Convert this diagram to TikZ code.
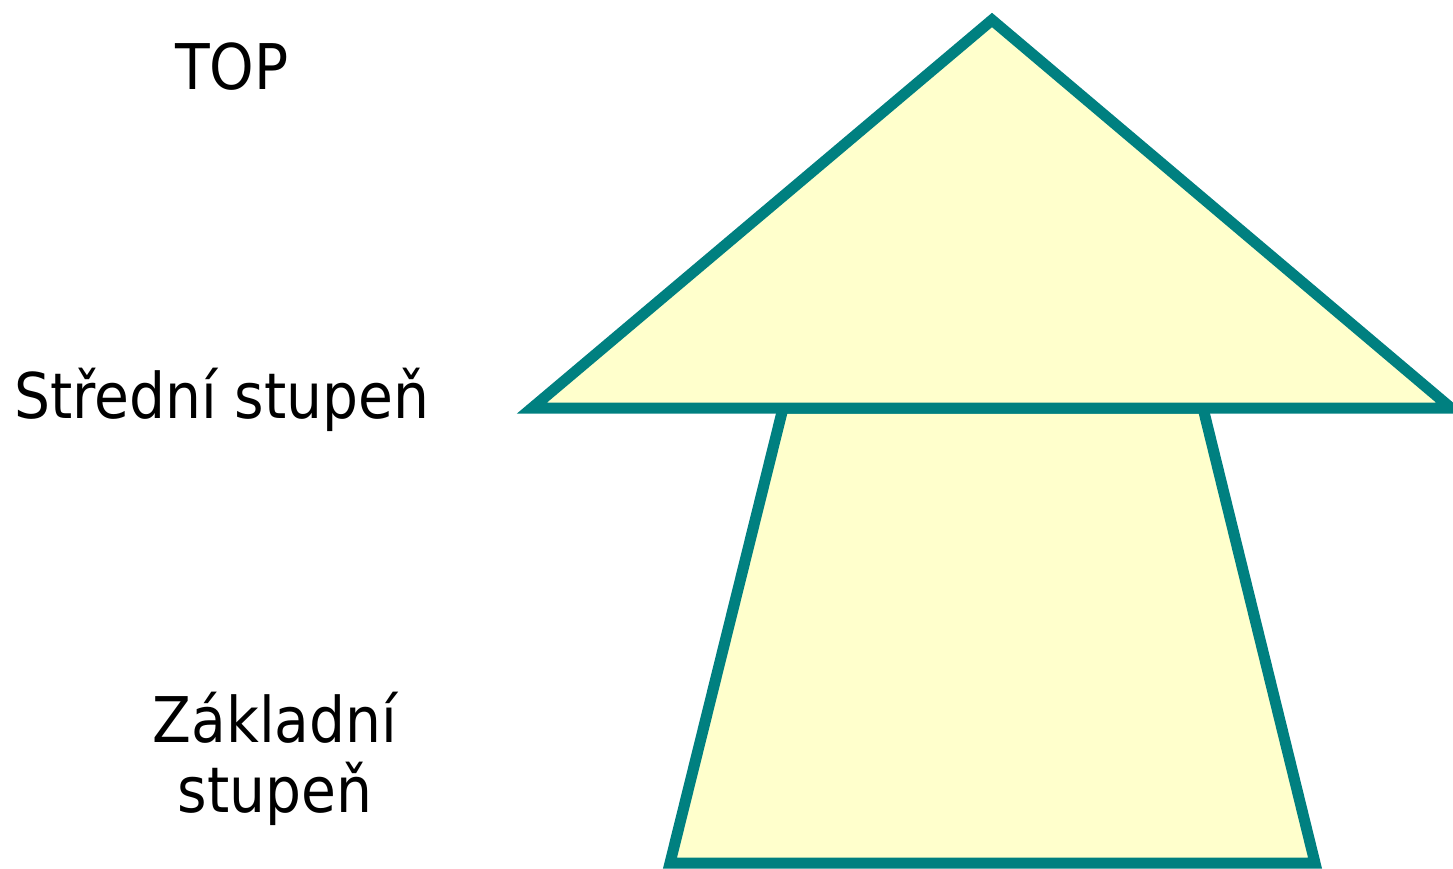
\documentclass[tikz,border=0pt]{standalone}
\usepackage{fontspec}
\setmainfont{DejaVu Sans Condensed}
\definecolor{tealline}{HTML}{008080}
\definecolor{paleyellow}{HTML}{FFFFCC}
\begin{document}
\begin{tikzpicture}[x=1pt,y=-1pt,
  shapebox/.style={draw=tealline,fill=paleyellow,line width=11pt,line join=miter},
  lbl/.style={font=\fontsize{63}{70}\selectfont,inner sep=0pt,anchor=base}]
\useasboundingbox (0,0) rectangle (1453,868);
% trunk
\coordinate (tl) at (783,408);
\coordinate (tr) at (1203,408);
\coordinate (bl) at (670,863);
\coordinate (br) at (1315,863);
\draw[shapebox] (tl) -- (tr) -- (br) -- (bl) -- cycle;
% head
\coordinate (apex) at (992,20);
\coordinate (hl) at (532,408);
\coordinate (hr) at (1451,408);
\draw[shapebox] (apex) -- (hr) -- (hl) -- cycle;
% labels
\node[lbl] (top) at (232,89) {TOP};
\node[lbl,anchor=base west] (mid) at (14,418) {Střední stupeň};
\node[lbl,align=center] (base) at (275,812) {Základní\\stupeň};
\end{tikzpicture}
\end{document}
